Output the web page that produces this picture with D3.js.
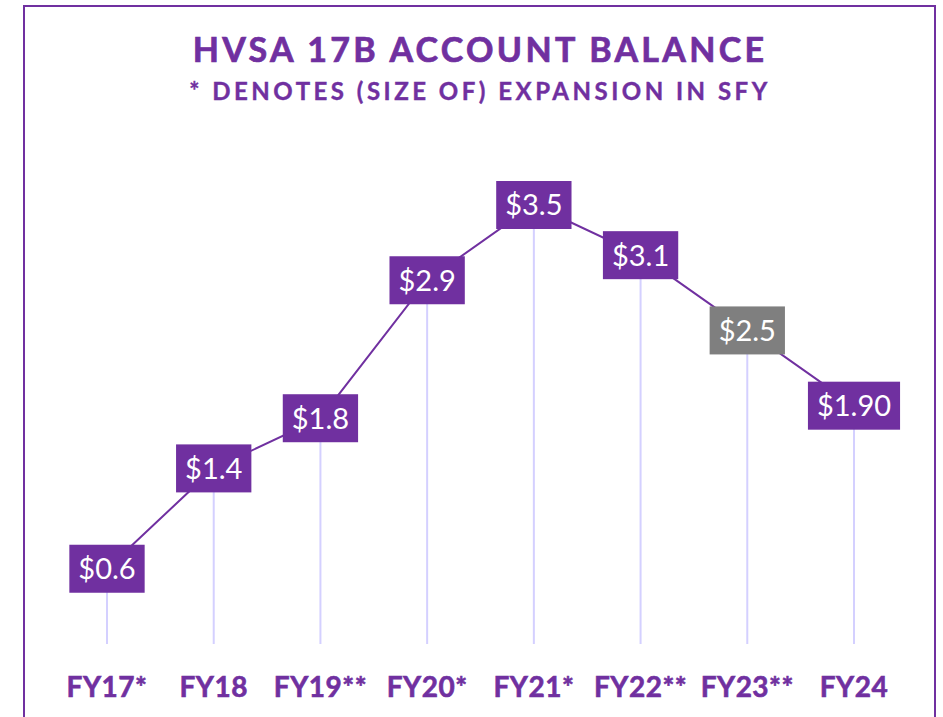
<!DOCTYPE html>
<html>
<head>
<meta charset="utf-8">
<script src="https://cdn.jsdelivr.net/npm/d3@7"></script>
<style>
  body { margin: 0; background: #fff; }
  svg { display: block; }
</style>
</head>
<body>
<div id="container"></div>
<script>
const WIDTH = 943;
const HEIGHT = 717;
const PURPLE = "#7030A0";
const GRAY = "#7F7F7F";
const DROP = "#D4D0FF";

var CATEGORIES = ["FY17*", "FY18", "FY19**", "FY20*", "FY21*", "FY22**", "FY23**", "FY24"];
var VALUES = [0.6, 1.4, 1.8, 2.9, 3.5, 3.1, 2.5, 1.9];
var LABELS = ["$0.6", "$1.4", "$1.8", "$2.9", "$3.5", "$3.1", "$2.5", "$1.90"];
var HIGHLIGHT = ["FY23**"];

var XScale = d3.scalePoint()
    .domain(CATEGORIES)
    .range([107, 854]);

var YScale = d3.scaleLinear()
    .domain([0, 3.5])
    .range([644, 205]);

var data = CATEGORIES.map(function (c, i) {
    return {cat: c, value: VALUES[i], label: LABELS[i]};
});

var svg = d3.select("#container").append("svg")
    .attr("width", WIDTH)
    .attr("height", HEIGHT);

// outer frame
svg.append("rect")
    .attr("x", 24).attr("y", 6)
    .attr("width", 911).attr("height", 730)
    .attr("fill", "none")
    .attr("stroke", PURPLE)
    .attr("stroke-width", 2);

svg.append("text")
    .attr("x", 480).attr("y", 62)
    .attr("text-anchor", "middle")
    .attr("fill", PURPLE)
    .attr("stroke", PURPLE)
    .attr("stroke-width", 0.7)
    .style("font-family", "Lato, 'Open Sans', sans-serif")
    .style("font-weight", "bold")
    .style("font-size", "34px")
    .style("letter-spacing", "3.3px")
    .text("HVSA 17B ACCOUNT BALANCE");

svg.append("text")
    .attr("x", 480).attr("y", 100)
    .attr("text-anchor", "middle")
    .attr("fill", PURPLE)
    .attr("stroke", PURPLE)
    .attr("stroke-width", 0.4)
    .style("font-family", "Lato, 'Open Sans', sans-serif")
    .style("font-weight", "bold")
    .style("font-size", "24px")
    .style("letter-spacing", "3.5px")
    .text("* DENOTES (SIZE OF) EXPANSION IN SFY");

// drop lines
svg.append("g").selectAll("line").data(data)
    .enter().append("line")
    .attr("x1", function (d) { return XScale(d.cat); })
    .attr("x2", function (d) { return XScale(d.cat); })
    .attr("y1", function (d) { return YScale(d.value); })
    .attr("y2", YScale(0))
    .attr("stroke", DROP)
    .attr("stroke-width", 2);

var line = d3.line()
    .x(function (d) { return XScale(d.cat); })
    .y(function (d) { return YScale(d.value); });

svg.append("path")
    .datum(data)
    .attr("d", line)
    .attr("fill", "none")
    .attr("stroke", PURPLE)
    .attr("stroke-width", 2);

// value labels
var labels = svg.append("g").selectAll("g").data(data)
    .enter().append("g")
    .attr("transform", function (d) {
        return "translate(" + XScale(d.cat) + "," + YScale(d.value) + ")";
    });

var boxes = labels.append("rect")
    .attr("fill", function (d) { return HIGHLIGHT.indexOf(d.cat) >= 0 ? GRAY : PURPLE; });

labels.append("text")
    .attr("text-anchor", "middle")
    .attr("dy", "0.36em")
    .attr("fill", "#fff")
    .style("font-family", "Lato, 'Open Sans', sans-serif")
    .style("font-size", "29px")
    .text(function (d) { return d.label; })
    .each(function (d) { d.w = this.getComputedTextLength(); });

boxes
    .attr("x", function (d) { return -(d.w + 18) / 2; })
    .attr("y", -24)
    .attr("width", function (d) { return d.w + 18; })
    .attr("height", 48);

// category labels
svg.append("g").selectAll("text").data(data)
    .enter().append("text")
    .attr("x", function (d) { return XScale(d.cat); })
    .attr("y", 697)
    .attr("text-anchor", "middle")
    .attr("fill", PURPLE)
    .attr("stroke", PURPLE)
    .attr("stroke-width", 0.6)
    .style("font-family", "Lato, 'Open Sans', sans-serif")
    .style("font-weight", "bold")
    .style("font-size", "28px")
    .style("letter-spacing", "0.5px")
    .text(function (d) { return d.cat; });
</script>
</body>
</html>
